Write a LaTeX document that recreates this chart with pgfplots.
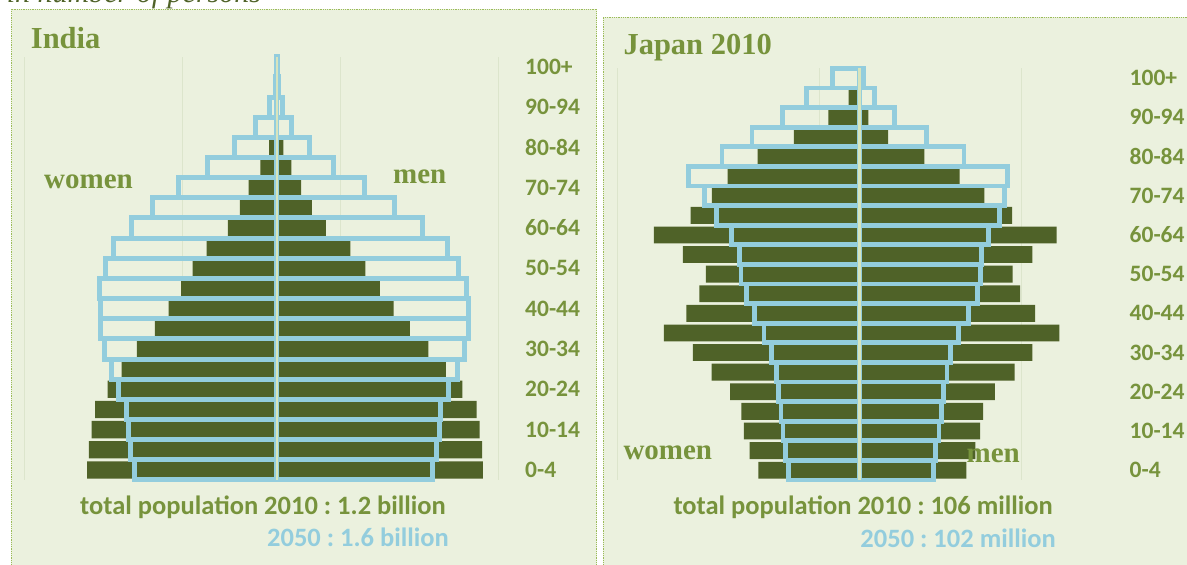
\documentclass[border=0pt]{standalone}
\usepackage{pgfplots}
\pgfplotsset{compat=1.18}
\usepackage{pgfplotstable}
\usepackage{fontspec}
\setmainfont{Carlito}
\newfontfamily\cambria{Liberation Serif}
\definecolor{bg}{HTML}{EBF1DE}
\definecolor{tgreen}{HTML}{77933C}
\definecolor{dkbar}{HTML}{4F6228}
\definecolor{ltblue}{HTML}{93CDDD}
\definecolor{pale}{HTML}{D7E4BD}
\definecolor{gridc}{HTML}{DCE5CC}
\definecolor{bordc}{HTML}{9BBB59}
\frenchspacing

% age index 0 = 0-4 ... 20 = 100+ ; values in millions, women negative
\pgfplotstableread{
age w2010 m2010 w2050 m2050
0  -60.0 65.2 -45.1 49.4
1  -59.5 65.0 -46.4 50.6
2  -58.6 64.2 -47.0 51.4
3  -57.5 63.2 -47.6 51.7
4  -53.5 58.7 -50.0 54.3
5  -49.1 53.5 -52.4 57.3
6  -44.3 48.0 -54.6 59.3
7  -38.6 42.1 -55.9 60.6
8  -34.2 37.0 -55.9 60.6
9  -30.3 32.6 -56.0 60.1
10 -26.6 28.0 -54.3 57.4
11 -22.2 23.3 -51.7 54.0
12 -15.5 15.5 -46.1 46.2
13 -11.7 11.1 -39.4 37.3
14 -8.9  7.7  -31.2 27.9
15 -5.2  4.6  -21.8 18.1
16 -2.4  2.1  -13.5 10.3
17 -0.6  0.6  -6.6  4.7
18 -0.15 0.15 -2.2  1.7
19 -0.03 0.03 -0.5  0.5
20 -0.01 0.01 -0.1  0.1
}\india

\pgfplotstableread{
age w2010 m2010 w2050 m2050
0  -2.50 2.65 -1.75 1.83
1  -2.72 2.87 -1.82 1.89
2  -2.86 2.99 -1.89 1.97
3  -2.92 3.06 -1.94 2.03
4  -3.20 3.35 -2.00 2.09
5  -3.66 3.84 -2.06 2.17
6  -4.12 4.28 -2.17 2.26
7  -4.84 4.95 -2.36 2.46
8  -4.28 4.35 -2.59 2.71
9  -3.96 3.98 -2.80 2.92
10 -3.80 3.79 -2.93 2.99
11 -4.37 4.28 -2.96 3.03
12 -5.09 4.88 -3.17 3.20
13 -4.18 3.78 -3.54 3.47
14 -3.65 3.09 -3.84 3.59
15 -3.26 2.48 -4.24 3.66
16 -2.52 1.61 -3.40 2.59
17 -1.62 0.71 -2.66 1.67
18 -0.77 0.22 -1.91 0.87
19 -0.27 0.04 -1.30 0.38
20 -0.01 0.01 -0.66 0.11
}\japan

\pgfplotsset{pyr/.style={
  scale only axis, anchor=south west,
  ymin=-0.5, ymax=20.5,
  xbar, bar shift=0pt,
  axis line style={draw=none},
  major tick length=0pt,
  xticklabels={},
  xmajorgrids, major grid style={gridc, line width=0.8pt},
  ytick={0,2,...,20},
  yticklabels={0-4,10-14,20-24,30-34,40-44,50-54,60-64,70-74,80-84,90-94,100+},
  yticklabel pos=right,
  yticklabel style={anchor=west, inner sep=0pt, text=tgreen,
     font=\fontsize{23.5}{28}\selectfont\bfseries},
  clip=false,
}}

\begin{document}
\begin{tikzpicture}[x=1pt,y=1pt]
\useasboundingbox (0,0) rectangle (1187,565);
\fill[white] (0,0) rectangle (1187,565);
% panels
\fill[bg] (11,-5) rectangle (596.7,555.7);
\draw[bordc, line width=0.8pt, densely dotted] (11,-5) rectangle (596.7,555.7);
\fill[bg] (603.3,-5) rectangle (1195,547.7);
\draw[bordc, line width=0.8pt, densely dotted] (603.3,-5) rectangle (1195,547.7);
% header
\node[anchor=base west, inner sep=0pt, text=dkbar, font=\cambria\itshape\fontsize{30}{36}\selectfont] at (6.7,562.3) {in number of persons};

% India
\begin{axis}[pyr, at={(24pt,85pt)}, width=474pt, height=423.3pt,
  xmin=-80, xmax=70, xtick={-80,-30,20,70},
  yticklabel style={xshift=27pt}]
\addplot[fill=dkbar, draw=none, bar width=0.86] table[x=w2010,y=age]{\india};
\addplot[fill=dkbar, draw=none, bar width=0.86] table[x=m2010,y=age]{\india};
\addplot[fill=none, draw=ltblue, line width=5pt, line join=miter, bar width=1] table[x=w2050,y=age]{\india};
\addplot[fill=none, draw=ltblue, line width=5pt, line join=miter, bar width=1] table[x=m2050,y=age]{\india};
\draw[pale, line width=2.5pt] (axis cs:0,-0.5) -- (axis cs:0,20.5);
\end{axis}

% Japan
\begin{axis}[pyr, at={(617pt,85pt)}, width=404pt, height=411.7pt,
  xmin=-6, xmax=4, xtick={-6,-1,4},
  yticklabel style={xshift=108.5pt}]
\addplot[fill=dkbar, draw=none, bar width=0.86] table[x=w2010,y=age]{\japan};
\addplot[fill=dkbar, draw=none, bar width=0.86] table[x=m2010,y=age]{\japan};
\addplot[fill=none, draw=ltblue, line width=4.8pt, line join=miter, bar width=1] table[x=w2050,y=age]{\japan};
\addplot[fill=none, draw=ltblue, line width=4.8pt, line join=miter, bar width=1] table[x=m2050,y=age]{\japan};
\draw[pale, line width=2.5pt] (axis cs:0,-0.5) -- (axis cs:0,20.5);
\end{axis}

% titles and labels
\begin{scope}[every node/.style={inner sep=0pt, text=tgreen}]
\node[anchor=base west, font=\cambria\bfseries\fontsize{30.5}{36}\selectfont] at (30.7,516.7) {India};
\node[anchor=base west, font=\cambria\bfseries\fontsize{30.5}{36}\selectfont] at (623.3,510) {Japan 2010};
\node[anchor=base west, font=\cambria\bfseries\fontsize{29}{34}\selectfont] at (44,376.7) {women};
\node[anchor=base west, font=\cambria\bfseries\fontsize{29}{34}\selectfont] at (393,381.7) {men};
\node[anchor=base west, font=\cambria\bfseries\fontsize{29}{34}\selectfont] at (623.3,105) {women};
\node[anchor=base west, font=\cambria\bfseries\fontsize{29}{34}\selectfont] at (966.5,102.3) {men};
\node[anchor=base west, font=\bfseries\fontsize{26.5}{32}\selectfont] at (80,50) {total population 2010 : 1.2 billion};
\node[anchor=base east, text=ltblue, font=\bfseries\fontsize{26.5}{32}\selectfont] at (449,18.3) {2050 : 1.6 billion};
\node[anchor=base west, font=\bfseries\fontsize{26.5}{32}\selectfont] at (673.3,50) {total population 2010 : 106 million};
\node[anchor=base east, text=ltblue, font=\bfseries\fontsize{26.5}{32}\selectfont] at (1056,17.3) {2050 : 102 million};
\end{scope}
\end{tikzpicture}
\end{document}
